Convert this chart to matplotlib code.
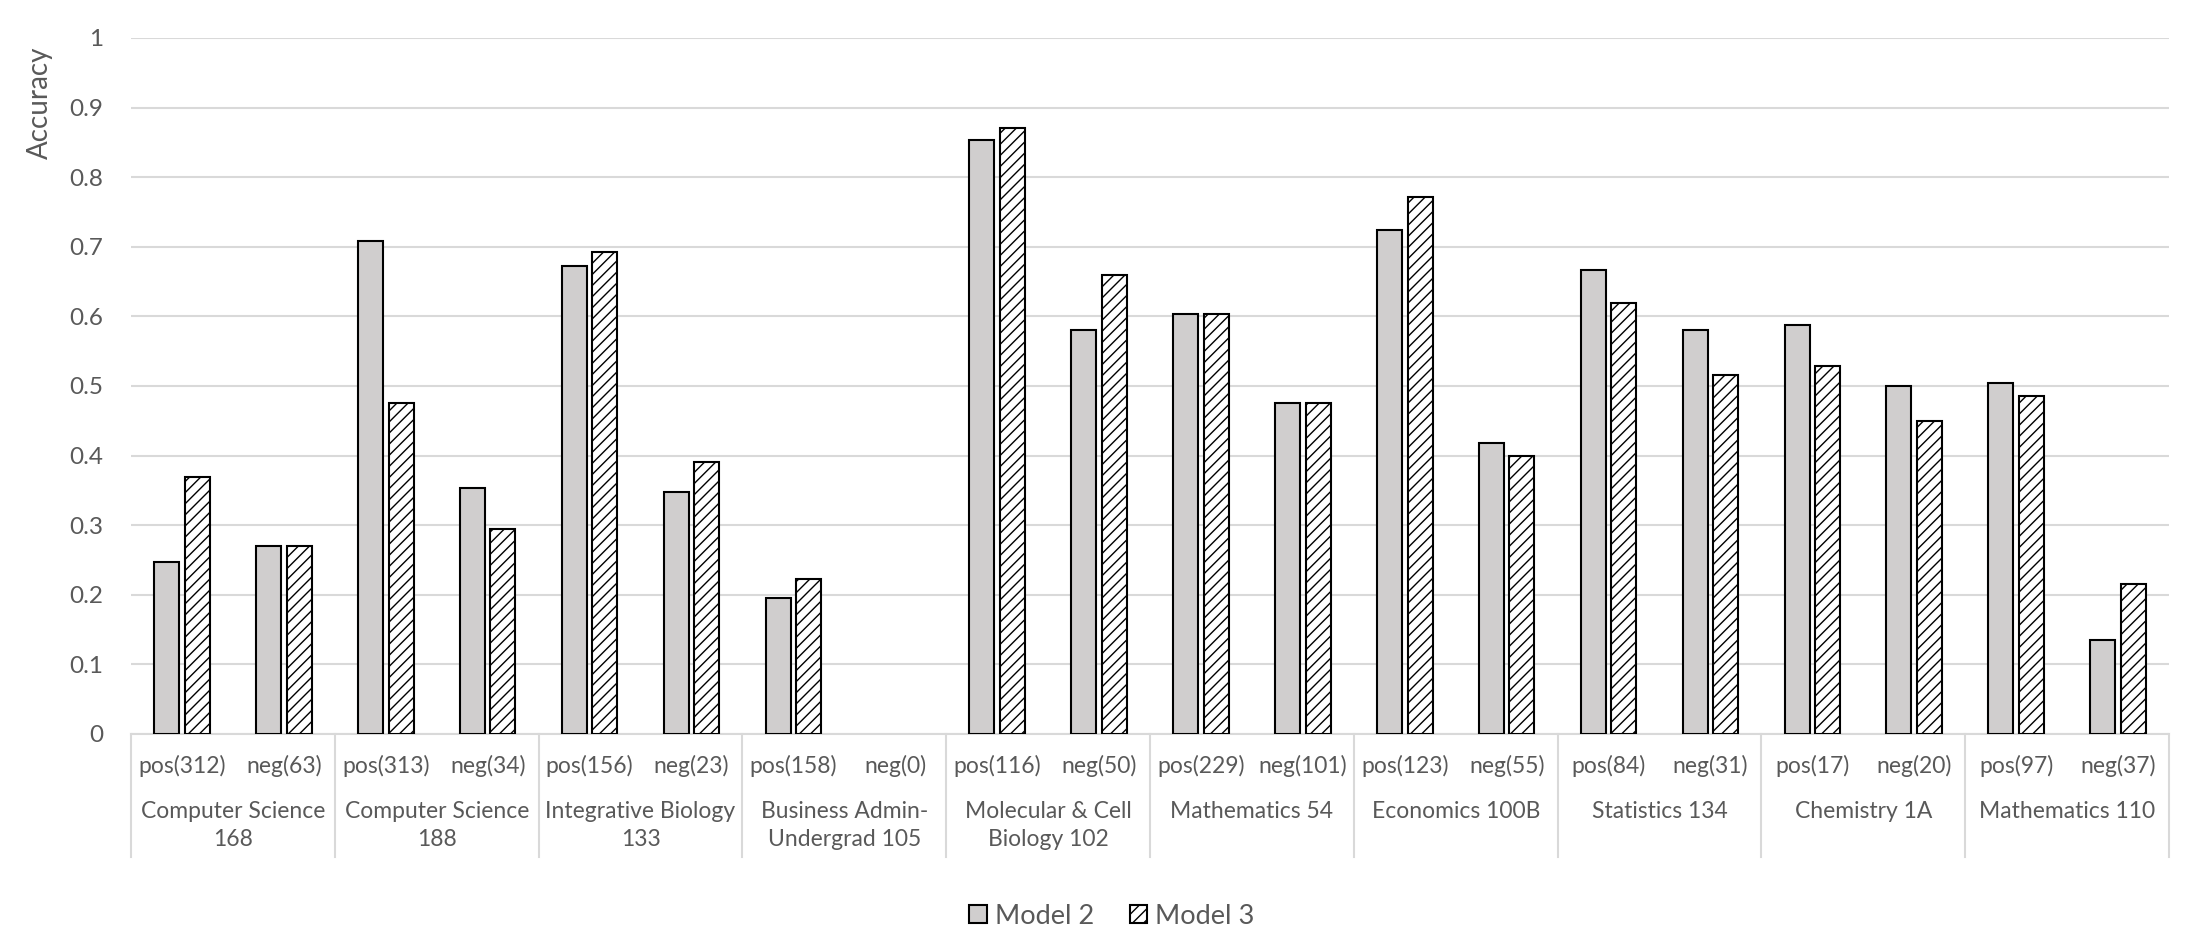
import matplotlib
matplotlib.use('agg')
import matplotlib.pyplot as plt
import matplotlib.transforms as mtrans
from matplotlib.patches import Patch
import numpy as np

plt.rcParams['font.family'] = ['Lato', 'DejaVu Sans']
plt.rcParams['hatch.linewidth'] = 1.0

courses = ["Computer Science\n168", "Computer Science\n188", "Integrative Biology\n133",
           "Business Admin-\nUndergrad 105", "Molecular & Cell\nBiology 102", "Mathematics 54",
           "Economics 100B", "Statistics 134", "Chemistry 1A", "Mathematics 110"]
sub_labels = ["pos(312)", "neg(63)", "pos(313)", "neg(34)", "pos(156)", "neg(23)",
              "pos(158)", "neg(0)", "pos(116)", "neg(50)", "pos(229)", "neg(101)",
              "pos(123)", "neg(55)", "pos(84)", "neg(31)", "pos(17)", "neg(20)",
              "pos(97)", "neg(37)"]
model2 = [0.247, 0.270, 0.709, 0.353, 0.673, 0.348, 0.196, 0.0, 0.853, 0.580,
          0.603, 0.475, 0.724, 0.418, 0.667, 0.581, 0.588, 0.500, 0.505, 0.135]
model3 = [0.369, 0.270, 0.476, 0.294, 0.692, 0.391, 0.222, 0.0, 0.871, 0.660,
          0.603, 0.475, 0.772, 0.400, 0.619, 0.516, 0.529, 0.450, 0.485, 0.216]

text_color = '#595959'
grid_color = '#d9d9d9'
fs = 16.5

fig = plt.figure(figsize=(22.12, 9.5), dpi=100)
ax = fig.add_axes([131 / 2212, 1 - 734 / 950, 2038 / 2212, 696 / 950])

x = np.arange(len(sub_labels))
bw = 0.245
off = 0.15
# Excel draws nothing for an empty bar, so drop the outline there
edges2 = ['black' if v > 0 else 'none' for v in model2]
edges3 = ['black' if v > 0 else 'none' for v in model3]
ax.bar(x - off, model2, bw, color='#d0cece', edgecolor=edges2, linewidth=1.5,
       label='Model 2', zorder=3)
ax.bar(x + off, model3, bw, color='white', edgecolor=edges3, linewidth=1.5,
       hatch='///', label='Model 3', zorder=3)

ax.set_xlim(-0.5, len(sub_labels) - 0.5)
ax.set_ylim(0, 1)
ax.set_yticks(np.arange(0, 1.01, 0.1))
ax.set_yticklabels(['0'] + ['%.1f' % v for v in np.arange(0.1, 0.95, 0.1)] + ['1'])
ax.yaxis.grid(True, color=grid_color, lw=1.5, zorder=0)
ax.set_axisbelow(True)
for s in ['top', 'right', 'left']:
    ax.spines[s].set_visible(False)
ax.spines['bottom'].set_color(grid_color)
ax.spines['bottom'].set_linewidth(1.5)
ax.tick_params(axis='y', length=0, pad=20, labelsize=fs + 1, labelcolor=text_color)
ax.set_xticks(x)
ax.set_xticklabels(sub_labels)
ax.tick_params(axis='x', length=0, pad=15, labelsize=fs, labelcolor=text_color)

trans = mtrans.blended_transform_factory(ax.transData, ax.transAxes)
for i in range(len(courses) + 1):
    ax.plot([2 * i - 0.5, 2 * i - 0.5], [0, -0.177], color=grid_color, lw=1.5,
            transform=trans, clip_on=False)
for i, c in enumerate(courses):
    ax.text(2 * i + 0.5, -0.096, c, transform=trans, ha='center', va='top',
            fontsize=fs, color=text_color, linespacing=1.4, multialignment='center')

fig.text(40 / 2212, 1 - 103 / 950, 'Accuracy', rotation=90, ha='center', va='center',
         fontsize=20, color=text_color)

handles = [Patch(facecolor='#d0cece', edgecolor='black', linewidth=1.5),
           Patch(facecolor='white', edgecolor='black', linewidth=1.5, hatch='///')]
fig.legend(handles, ['Model 2', 'Model 3'], loc='center', ncol=2,
           bbox_to_anchor=(1112 / 2212, 1 - 916 / 950), frameon=False,
           fontsize=19.5, labelcolor=text_color, handlelength=0.65, handleheight=0.65,
           handletextpad=0.3, columnspacing=1.3)

fig.savefig('out.png', dpi=100)
